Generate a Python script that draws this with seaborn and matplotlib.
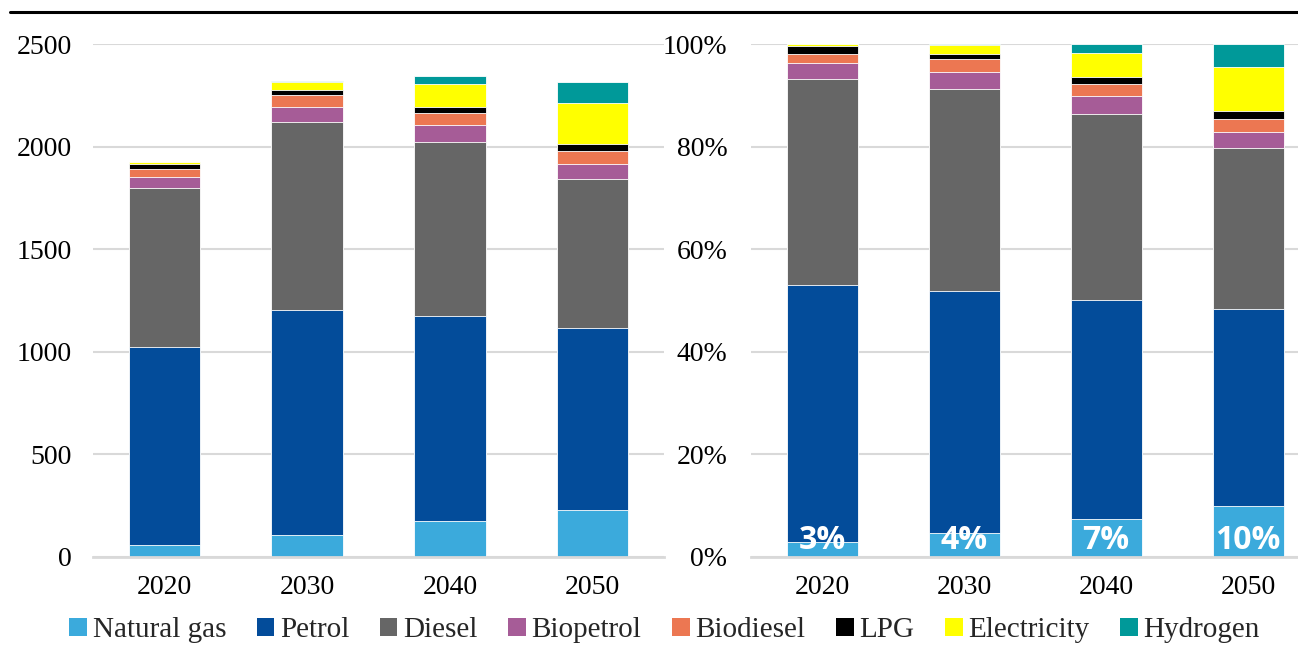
import numpy as np
import pandas as pd
import matplotlib
matplotlib.use("Agg")
import matplotlib.pyplot as plt
import seaborn as sns
from matplotlib.patches import Patch
from matplotlib.lines import Line2D
from matplotlib.ticker import FuncFormatter

years = ["2020", "2030", "2040", "2050"]
fuels = ["Natural gas", "Petrol", "Diesel", "Biopetrol", "Biodiesel", "LPG", "Electricity", "Hydrogen"]
natural_gas = [58, 107, 175, 229]
petrol = [965, 1097, 999, 887]
diesel = [773, 914, 850, 726]
biopetrol = [57, 77, 81, 75]
biodiesel = [36, 56, 57, 60]
lpg = [28, 25, 33, 36]
electricity = [8, 40, 110, 198]
hydrogen = [1, 4, 39, 102]
share_labels = ["3%", "4%", "7%", "10%"]

colors = ["#3BAADC", "#034C9A", "#666666", "#A65C97", "#EC7752", "#000000", "#FFFF00", "#009999"]

sns.set_theme(style="white")
plt.rcParams["font.family"] = ["Liberation Serif", "DejaVu Serif"]

series = [natural_gas, petrol, diesel, biopetrol, biodiesel, lpg, electricity, hydrogen]
vals = np.array(series, dtype=float)
cum = np.cumsum(vals, axis=0)
share = cum / cum[-1]

fig = plt.figure(figsize=(12.98, 6.45), dpi=100)
axL = fig.add_axes([93/1298, 1-557/645, (664-93)/1298, 513/645])
axR = fig.add_axes([751/1298, 1-557/645, (1298-751)/1298, 513/645])

def draw(ax, data):
    for i in range(len(fuels)-1, -1, -1):
        df = pd.DataFrame({"year": years, "v": data[i]})
        sns.barplot(data=df, x="year", y="v", color=colors[i], width=0.5,
                    edgecolor="white", linewidth=0.6, ax=ax, saturation=1)
    ax.set_xlabel("")
    ax.set_ylabel("")
    for s in ["left", "right", "top"]:
        ax.spines[s].set_visible(False)
    ax.spines["bottom"].set_color("#D9D9D9")
    ax.spines["bottom"].set_linewidth(2)
    ax.yaxis.grid(True, color="#D9D9D9", linewidth=1.5)
    ax.set_axisbelow(True)
    ax.tick_params(axis="both", length=0, labelsize=20, colors="black")
    ax.tick_params(axis="y", pad=15)
    ax.tick_params(axis="x", pad=13)

draw(axL, cum)
axL.set_ylim(0, 2500)
axL.set_yticks(np.arange(0, 2501, 500))
axL.set_xlim(-0.5, 3.5)

draw(axR, share)
axR.set_ylim(0, 1)
axR.set_yticks(np.arange(0, 1.01, 0.2))
axR.yaxis.set_major_formatter(FuncFormatter(lambda v, p: f"{v*100:.0f}%"))
axR.set_xlim(-0.5, 3.352)
axR.tick_params(axis="y", pad=17)

for i, lab in enumerate(share_labels):
    axR.text(i, 0.032, lab, ha="center", va="center", color="white",
             fontsize=23, fontweight="bold", family="Open Sans")

handles = [Patch(facecolor=c, edgecolor="none") for c in colors]
fig.legend(handles, fuels, loc="center", bbox_to_anchor=(0.512, 0.023), ncol=8,
           frameon=False, fontsize=21, handlelength=0.6, handleheight=0.6,
           handletextpad=0.2, columnspacing=1.05)

fig.add_artist(Line2D([10/1298, 1], [1-12/645, 1-12/645], color="black", linewidth=2.2,
                      transform=fig.transFigure))

fig.savefig("out.png", dpi=100)
